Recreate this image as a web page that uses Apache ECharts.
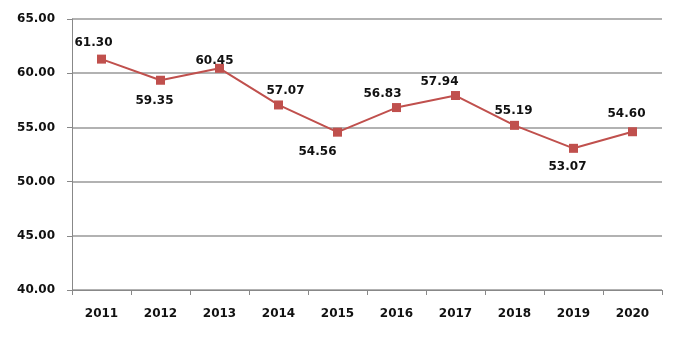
<!DOCTYPE html>
<html><head><meta charset="utf-8">
<script src="https://cdn.jsdelivr.net/npm/echarts@6/dist/echarts.min.js"></script>
<style>html,body{margin:0;padding:0;background:#fff}#c{width:680px;height:342px}</style>
</head><body><div id="c"></div>
<script>
const years = ['2011','2012','2013','2014','2015','2016','2017','2018','2019','2020'];
const values = [61.30, 59.35, 60.45, 57.07, 54.56, 56.83, 57.94, 55.19, 53.07, 54.60];
const yTicks = {min: 40, max: 65, interval: 5};
// label placement (pixel offsets of label centre from marker), layout only
const labelOffsets = [[-8,-16],[-6,21],[-5,-7],[7,-14],[-20,20],[-14,-14],[-16,-14],[-1,-14],[-6,19],[-6,-18]];

const chart = echarts.init(document.getElementById('c'), null, {renderer: 'canvas'});
const font = 'Tahoma, "DejaVu Sans", sans-serif';
chart.setOption({
  animation: false,
  grid: {left: 72, right: 18, top: 19, bottom: 52},
  xAxis: {
    type: 'category', data: years, boundaryGap: true,
    axisLine: {lineStyle: {color: '#888', width: 1}},
    axisTick: {show: true, length: 5, lineStyle: {color: '#888'}},
    axisLabel: {color: '#111', fontWeight: 'bold', fontSize: 12, fontFamily: font, margin: 18}
  },
  yAxis: {
    type: 'value', min: yTicks.min, max: yTicks.max, interval: yTicks.interval,
    axisLine: {show: true, lineStyle: {color: '#888'}},
    axisTick: {show: true, length: 5, lineStyle: {color: '#888'}},
    axisLabel: {color: '#111', fontWeight: 'bold', fontSize: 12, fontFamily: font, margin: 17,
      formatter: v => v.toFixed(2)},
    splitLine: {lineStyle: {color: '#999', width: 1.5}}
  },
  series: [{
    type: 'line',
    data: values.map((v, i) => ({value: v, label: {position: 'inside', offset: labelOffsets[i]}})),
    symbol: 'rect', symbolSize: 9,
    lineStyle: {color: '#c0504d', width: 2},
    itemStyle: {color: '#c0504d'},
    label: {show: true, color: '#111', fontWeight: 'bold', fontSize: 12, fontFamily: font,
      formatter: p => p.value.toFixed(2)}
  }]
});
</script></body></html>
